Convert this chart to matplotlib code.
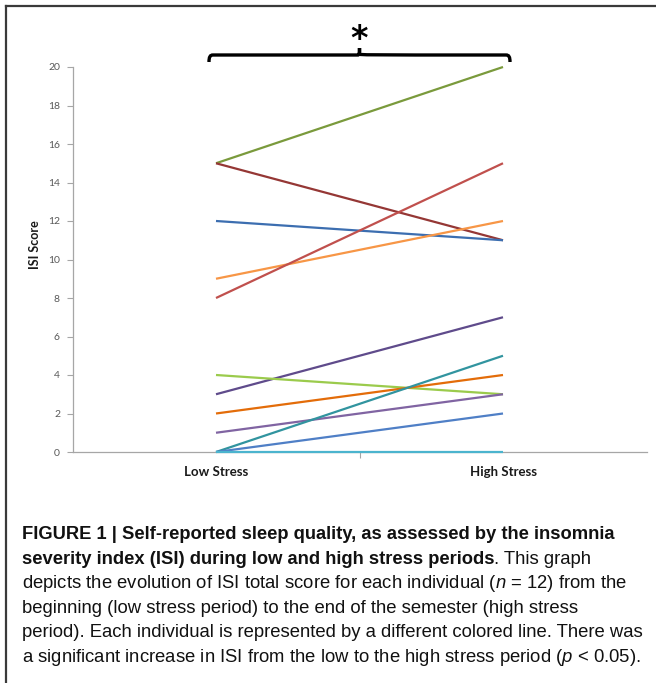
import matplotlib
matplotlib.use("Agg")
import matplotlib.pyplot as plt
from matplotlib.lines import Line2D
from matplotlib.path import Path
from matplotlib.patches import PathPatch

# ---- data ----
categories = ["Low Stress", "High Stress"]
low_stress = [15, 15, 12, 9, 8, 3, 4, 2, 1, 0, 0, 0]
high_stress = [20, 11, 11, 12, 15, 7, 3, 4, 3, 5, 2, 0]
line_colors = ["#7A9A3C", "#953735", "#3C6EB0", "#F79646", "#C0504D", "#5F4B8B",
               "#9BCB4C", "#E36C09", "#8064A2", "#31949F", "#4F7FC6", "#4BB4CE"]
y_ticks = [0, 2, 4, 6, 8, 10, 12, 14, 16, 18, 20]
y_label = "ISI Score"
caption_bold_1 = "FIGURE 1 | Self-reported sleep quality, as assessed by the insomnia"
caption_bold_2 = "severity index (ISI) during low and high stress periods"
caption_rest_2 = ". This graph"
caption_lines = [
    r"depicts the evolution of ISI total score for each individual ($n$ = 12) from the",
    "beginning (low stress period) to the end of the semester (high stress",
    "period). Each individual is represented by a different colored line. There was",
    r"a significant increase in ISI from the low to the high stress period ($p$ < 0.05).",
]

W, H = 656, 683
fig = plt.figure(figsize=(W / 100, H / 100), dpi=100)
fig.patch.set_facecolor("white")

cap_font = ["Liberation Sans", "DejaVu Sans"]
plt.rcParams["mathtext.fontset"] = "custom"
plt.rcParams["mathtext.it"] = "Liberation Sans:italic"
plt.rcParams["mathtext.rm"] = "Liberation Sans"

def fx(px):
    return px / W

def fy(py):
    return 1 - py / H

# frame
fig.add_artist(Line2D([fx(6), 1.01], [fy(6), fy(6)], color="#3a3a3a", lw=1.6))
fig.add_artist(Line2D([fx(6), fx(6)], [fy(6), -0.01], color="#3a3a3a", lw=1.6))

ax = fig.add_axes([fx(72.5), fy(452), fx(646.5) - fx(72.5), fy(67) - fy(452)])
x = [0, 1]
for lo, hi, c in zip(low_stress, high_stress, line_colors):
    ax.plot(x, [lo, hi], color=c, lw=1.6, solid_capstyle="butt", clip_on=False, zorder=3)

ax.set_xlim(-0.5, 1.5)
ax.set_ylim(0, 20)
ax.set_yticks(y_ticks)
ax.set_yticklabels([str(v) for v in y_ticks], fontsize=7.5, color="#595959", family="Lato")
ax.set_xticks([0.5])
ax.set_xticklabels([""])
for i, cat in enumerate(categories):
    ax.text(i, -0.053, cat, transform=ax.get_xaxis_transform(), ha="center", va="center",
            fontsize=9.5, fontweight="bold", family="Lato", color="#1a1a1a")
ax.tick_params(axis="both", direction="out", length=4, width=0.8, color="#A6A6A6", pad=5)
for s in ["top", "right"]:
    ax.spines[s].set_visible(False)
for s in ["left", "bottom"]:
    ax.spines[s].set_color("#A6A6A6")
    ax.spines[s].set_linewidth(0.9)
fig.text(fx(35), fy(245), y_label, rotation=90, ha="center", va="center", fontsize=9,
         fontweight="bold", family="Lato", color="#1a1a1a")

# significance bracket
bx0, bx1, by, bend, bmid = 209, 510, 55, 62, 48
cx = (bx0 + bx1) / 2
verts = [(bx0, bend), (bx0, by + 2), (bx0 + 1, by), (bx0 + 4, by),
         (cx - 2, by), (cx, by), (cx, by - 1), (cx, bmid),
         (cx, bmid), (cx, by - 1), (cx, by), (cx + 2, by),
         (bx1 - 4, by), (bx1 - 1, by), (bx1, by + 2), (bx1, bend)]
codes = [Path.MOVETO, Path.CURVE4, Path.CURVE4, Path.CURVE4,
         Path.LINETO, Path.CURVE4, Path.CURVE4, Path.LINETO,
         Path.MOVETO, Path.LINETO, Path.CURVE4, Path.CURVE4,
         Path.LINETO, Path.CURVE4, Path.CURVE4, Path.CURVE4]
path = Path([(fx(a), fy(b)) for a, b in verts], codes)
fig.add_artist(PathPatch(path, facecolor="none", edgecolor="black", lw=2.4,
                         transform=fig.transFigure))
fig.text(fx(cx), fy(39), "*", ha="center", va="center", fontsize=24, fontweight="bold",
         family="DejaVu Sans", color="black")

# caption
bold_size = 13.2
norm_size = 13.3
x0 = fx(22)
base = [539, 564, 588, 613, 637, 662]
fig.text(x0, fy(base[0]), caption_bold_1, fontsize=bold_size, fontweight="bold",
         family=cap_font, va="baseline", ha="left", color="#111111")
t2 = fig.text(x0, fy(base[1]), caption_bold_2, fontsize=bold_size, fontweight="bold",
              family=cap_font, va="baseline", ha="left", color="#111111")
fig.add_artist(matplotlib.text.Annotation(caption_rest_2, xy=(1, 0), xycoords=t2,
                                          va="bottom", ha="left", fontsize=norm_size,
                                          family=cap_font, color="#111111"))
for line, b in zip(caption_lines, base[2:]):
    fig.text(x0, fy(b), line, fontsize=norm_size, family=cap_font, va="baseline",
             ha="left", color="#111111")

fig.savefig("out.png", dpi=100)
